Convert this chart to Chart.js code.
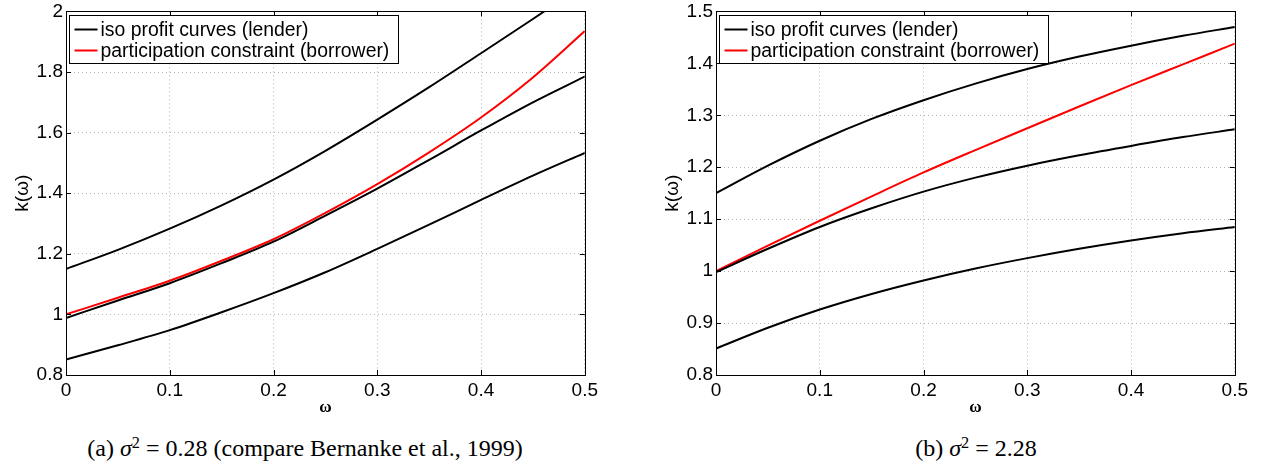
<!DOCTYPE html>
<html lang="en">
<head>
  <meta charset="UTF-8" />
  <title>Iso profit curves and participation constraint</title>
  <script src="https://cdn.jsdelivr.net/npm/chart.js"></script>
  <style>
    body { margin: 0; background: #fff; width: 1265px; height: 470px; position: relative; overflow: hidden; }
    canvas { position: absolute; }
    .caption {
      position: absolute; top: 434px; line-height: 28px; white-space: nowrap;
      font-family: "Liberation Serif", "Times New Roman", serif; font-size: 24px; color: #000;
      transform: translateX(-50%);
    }
    .caption sup { font-size: 0.68em; line-height: 0; vertical-align: 0.5em; }
  </style>
</head>
<body>
  <canvas id="chartA" width="602" height="423" style="left:0;top:-3px;width:602px;height:423px"></canvas>
  <canvas id="chartB" width="602" height="423" style="left:650px;top:-3px;width:602px;height:423px"></canvas>
  <div class="caption" style="left:305px">(a) <i>σ</i><sup>2</sup> = 0.28 (compare Bernanke et al., 1999)</div>
  <div class="caption" style="left:976px">(b) <i>σ</i><sup>2</sup> = 2.28</div>

  <script>
    // omega grid shared by both panels
    const omega = [0, 0.05, 0.1, 0.15, 0.2, 0.25, 0.3, 0.35, 0.4, 0.45, 0.5];

    // panel (a): sigma^2 = 0.28
    const isoHighA = [1.150, 1.213, 1.283, 1.360, 1.445, 1.540, 1.643, 1.750, 1.862, 1.975, 2.090];
    const isoMidA  = [0.988, 1.046, 1.103, 1.169, 1.240, 1.326, 1.415, 1.510, 1.607, 1.700, 1.785];
    const isoLowA  = [0.851, 0.898, 0.948, 1.007, 1.070, 1.139, 1.216, 1.296, 1.378, 1.458, 1.533];
    const partA    = [1.000, 1.055, 1.111, 1.177, 1.248, 1.335, 1.430, 1.535, 1.650, 1.782, 1.935];

    // panel (b): sigma^2 = 2.28
    const isoHighB = [1.150, 1.203, 1.251, 1.293, 1.329, 1.361, 1.389, 1.413, 1.434, 1.453, 1.470];
    const isoMidB  = [0.998, 1.043, 1.085, 1.121, 1.153, 1.180, 1.203, 1.223, 1.241, 1.258, 1.273];
    const isoLowB  = [0.851, 0.891, 0.926, 0.956, 0.982, 1.005, 1.025, 1.043, 1.059, 1.073, 1.085];
    const partB    = [1.000, 1.049, 1.097, 1.144, 1.190, 1.233, 1.275, 1.317, 1.358, 1.398, 1.438];

    const yTicksA = { min: 0.8, max: 2.0, step: 0.2 };
    const yTicksB = { min: 0.8, max: 1.5, step: 0.1 };

    const lenderLabel = 'iso profit curves (lender)';
    const borrowerLabel = 'participation constraint (borrower)';

    const sans = '"Liberation Sans", Arial, Helvetica, sans-serif';

    function pts(ys) {
      return ys.map((y, i) => ({ x: omega[i], y }));
    }

    function line(ys, color, label) {
      return {
        label: label || '',
        data: pts(ys),
        borderColor: color,
        borderWidth: 2,
        pointRadius: 0,
        fill: false,
        cubicInterpolationMode: 'monotone'
      };
    }

    // matlab-ish frame: black box, inward ticks and a boxed legend in the corner
    const framePlugin = {
      id: 'frame',
      afterDraw(chart) {
        const { ctx, chartArea: a, scales: { x, y } } = chart;
        ctx.save();
        ctx.strokeStyle = '#000';
        ctx.lineWidth = 1;
        ctx.beginPath();
        x.ticks.forEach(t => {
          const px = Math.round(x.getPixelForValue(t.value)) + 0.5;
          ctx.moveTo(px, a.bottom); ctx.lineTo(px, a.bottom - 5);
          ctx.moveTo(px, a.top); ctx.lineTo(px, a.top + 5);
        });
        y.ticks.forEach(t => {
          const py = Math.round(y.getPixelForValue(t.value)) + 0.5;
          ctx.moveTo(a.left, py); ctx.lineTo(a.left + 5, py);
          ctx.moveTo(a.right, py); ctx.lineTo(a.right - 5, py);
        });
        ctx.stroke();
        ctx.strokeRect(Math.round(a.left) + 0.5, Math.round(a.top) + 0.5,
          Math.round(a.right - a.left), Math.round(a.bottom - a.top));

        // legend
        const items = chart.data.datasets.filter(d => d.label);
        ctx.font = '19.4px ' + sans;
        const textW = Math.max(...items.map(d => ctx.measureText(d.label).width));
        const bx = Math.round(a.left) + 3.5, by = Math.round(a.top) + 4.5;
        const bw = Math.round(34 + textW + 6), bh = 48;
        ctx.fillStyle = '#fff';
        ctx.fillRect(bx, by, bw, bh);
        ctx.strokeRect(bx, by, bw, bh);
        ctx.textBaseline = 'middle';
        ctx.textAlign = 'left';
        items.forEach((d, i) => {
          const ry = by + 14 + i * 21;
          ctx.strokeStyle = d.borderColor;
          ctx.lineWidth = 2;
          ctx.beginPath();
          ctx.moveTo(bx + 5, ry); ctx.lineTo(bx + 28, ry);
          ctx.stroke();
          ctx.fillStyle = '#000';
          ctx.fillText(d.label, bx + 31, ry + 1);
        });
        ctx.restore();
      }
    };

    function fmt(v) {
      return String(+Number(v).toFixed(2));
    }

    function makeChart(id, series, red, yt) {
      const datasets = [
        line(series[0], '#000000', lenderLabel),
        line(series[1], '#000000'),
        line(series[2], '#000000'),
        line(red, '#ff0000', borrowerLabel)
      ];
      return new Chart(document.getElementById(id), {
        type: 'line',
        data: { datasets },
        options: {
          responsive: false,
          animation: false,
          events: [],
          layout: { padding: { top: 12, right: 14, bottom: 0, left: 0 } },
          plugins: { legend: { display: false }, tooltip: { enabled: false } },
          scales: {
            x: {
              type: 'linear',
              min: 0, max: 0.5,
              grid: { color: '#b4b4b4', lineWidth: 1, drawTicks: false },
              border: { display: false, dash: [1, 3] },
              ticks: { stepSize: 0.1, padding: 4, color: '#000', font: { family: sans, size: 19 }, maxRotation: 0, callback: fmt },
              title: { display: true, text: 'ω', color: '#000', padding: { top: 0, bottom: 2 },
                       font: { family: '"Liberation Serif", serif', size: 17, weight: 'bold' } },
              afterFit(scale) { scale.height = 45; }
            },
            y: {
              min: yt.min, max: yt.max,
              grid: { color: '#b4b4b4', lineWidth: 1, drawTicks: false },
              border: { display: false, dash: [1, 3] },
              ticks: { stepSize: yt.step, padding: 3, color: '#000', font: { family: sans, size: 19 }, callback: fmt },
              title: { display: true, text: 'k(ω)', color: '#000', padding: { top: 11, bottom: 0 },
                       font: { family: sans, size: 19 } },
              afterFit(scale) { scale.width = 66; }
            }
          }
        },
        plugins: [framePlugin]
      });
    }

    makeChart('chartA', [isoHighA, isoMidA, isoLowA], partA, yTicksA);
    makeChart('chartB', [isoHighB, isoMidB, isoLowB], partB, yTicksB);
  </script>
</body>
</html>
